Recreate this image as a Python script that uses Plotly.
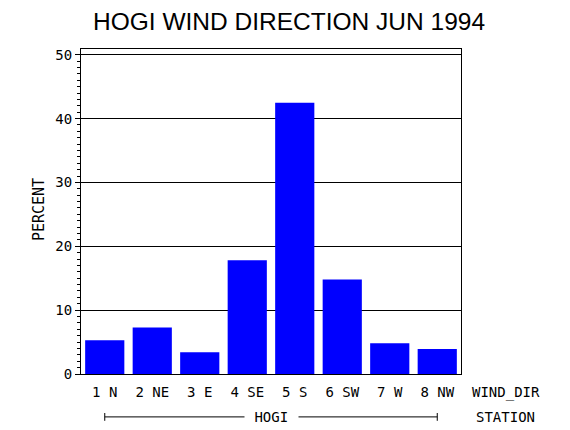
import plotly.graph_objects as go

# Wind direction frequency, HOGI station, June 1994
directions = ["1 N", "2 NE", "3 E", "4 SE", "5 S", "6 SW", "7 W", "8 NW"]
percent = [5.3, 7.3, 3.4, 17.8, 42.5, 14.8, 4.8, 3.9]
y_ticks = [0, 10, 20, 30, 40, 50]

MONO = "DejaVu Sans Mono"

fig = go.Figure()
fig.add_trace(go.Bar(x=directions, y=percent, marker_color="#0000ff",
                     marker_line_width=0))

fig.update_xaxes(type="category", range=[-0.5, 7.5], showline=True, mirror=True,
                 linecolor="black", linewidth=1, ticks="", showgrid=False,
                 tickfont=dict(family=MONO, size=14, color="black"),
                 ticklabelstandoff=5)
fig.update_yaxes(range=[0, 50.9], tickvals=y_ticks, showline=True, mirror=True,
                 linecolor="black", linewidth=1, ticks="outside", ticklen=5,
                 tickcolor="black", showgrid=True, gridcolor="black", gridwidth=1,
                 zeroline=False,
                 minor=dict(dtick=1, ticks="outside", ticklen=3, tickcolor="black",
                            showgrid=False),
                 tickfont=dict(family=MONO, size=14, color="black"))

# station bracket under the category labels
fig.add_shape(type="line", xref="x", yref="paper", x0=0, x1=7, y0=-0.132, y1=-0.132,
              line=dict(color="black", width=1))
for xe in [0, 7]:
    fig.add_shape(type="line", xref="x", yref="paper", x0=xe, x1=xe,
                  y0=-0.12, y1=-0.144, line=dict(color="black", width=1))

fig.add_annotation(x=3.5, y=-0.132, xref="x", yref="paper", text=" HOGI ",
                   showarrow=False, bgcolor="white", xanchor="center", yanchor="middle",
                   font=dict(family=MONO, size=14, color="black"))
fig.add_annotation(x=1.118, y=-0.058, xref="paper", yref="paper", text="WIND_DIR",
                   showarrow=False, xanchor="center", yanchor="middle",
                   font=dict(family=MONO, size=14, color="black"))
fig.add_annotation(x=1.118, y=-0.132, xref="paper", yref="paper", text="STATION",
                   showarrow=False, xanchor="center", yanchor="middle",
                   font=dict(family=MONO, size=14, color="black"))
fig.add_annotation(x=-0.11, y=0.505, xref="paper", yref="paper", text="PERCENT",
                   showarrow=False, textangle=-90, xanchor="center", yanchor="middle",
                   font=dict(family=MONO, size=15, color="black"))

# the page body adds an 8px margin, so the figure is 8px smaller each way
fig.update_layout(
    width=562, height=422, autosize=False,
    margin=dict(l=73, r=109, t=41, b=56),
    paper_bgcolor="white", plot_bgcolor="white",
    bargap=0.175, showlegend=False,
    title=dict(text="HOGI WIND DIRECTION JUN 1994", x=0.5, xanchor="center",
               y=0.969, yanchor="middle",
               font=dict(family="Liberation Sans", size=24.5, color="black")),
)

fig.write_html("out.html")
